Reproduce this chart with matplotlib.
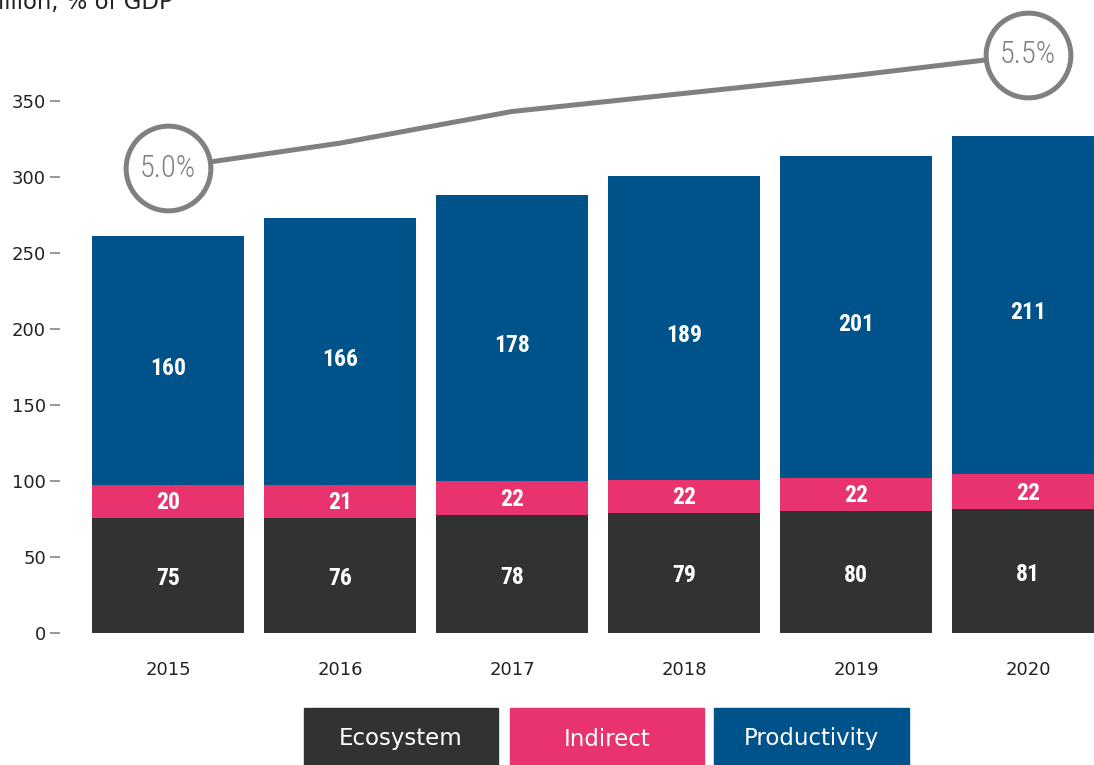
import numpy as np
import matplotlib
matplotlib.use("Agg")
import matplotlib.pyplot as plt
from matplotlib.patches import Rectangle

# data
years = ["2015", "2016", "2017", "2018", "2019", "2020"]
eco_lbl = ["75", "76", "78", "79", "80", "81"]
ind_lbl = ["20", "21", "22", "22", "22", "22"]
prod_lbl = ["160", "166", "178", "189", "201", "211"]
# segment heights as drawn in the chart
eco_h = [75.7, 75.8, 77.6, 79.0, 80.3, 81.6]
ind_h = [21.7, 21.6, 22.4, 21.7, 21.7, 23.0]
prod_h = [163.8, 175.6, 188.0, 200.0, 211.8, 222.4]
gdp_share = [5.0, 5.11, 5.25, 5.33, 5.41, 5.5]
gdp_lbl = {0: "5.0%", 5: "5.5%"}
series = ["Ecosystem", "Indirect", "Productivity"]

c_eco = "#313232"
c_ind = "#e8336f"
c_prod = "#00528b"
c_line = "#808080"
narrow = ["Roboto Condensed", "DejaVu Sans"]

W, H = 1094, 765
fig = plt.figure(figsize=(W / 100, H / 100), dpi=100)
ax = fig.add_axes([60 / W, (H - 640) / H, (W - 60) / W, 640 / H])

x = np.arange(len(years))
bw = 152 / 172
eco_h = np.array(eco_h)
ind_h = np.array(ind_h)
prod_h = np.array(prod_h)

ax.bar(x, eco_h, bw, color=c_eco)
ax.bar(x, ind_h, bw, bottom=eco_h, color=c_ind)
ax.bar(x, prod_h, bw, bottom=eco_h + ind_h, color=c_prod)

lbl_kw = dict(ha="center", va="center", color="white", fontsize=17,
              fontweight="bold", family=narrow, fontstretch="condensed")
for i in range(len(years)):
    ax.text(x[i], eco_h[i] / 2 - 2, eco_lbl[i], **lbl_kw)
    ax.text(x[i], eco_h[i] + ind_h[i] / 2 - 1, ind_lbl[i], **lbl_kw)
    ax.text(x[i], eco_h[i] + ind_h[i] + prod_h[i] / 2 - 5, prod_lbl[i], **lbl_kw)

ax.set_xlim((60 - 168) / 172, (W - 168) / 172)
ymin, ymax = -(640 - 633) / 1.52, 633 / 1.52
ax.set_ylim(ymin, ymax)
ax.set_yticks(np.arange(0, 351, 50))
ax.set_xticks(x)
ax.set_xticklabels(years)
ax.tick_params(axis="y", length=7.2, width=1.4, color="#999999", pad=3,
               labelsize=13, labelcolor="#222222")
ax.tick_params(axis="x", length=0, pad=15, labelsize=13, labelcolor="#222222")
for s in ax.spines.values():
    s.set_visible(False)

# GDP share line on a hidden twin axis
ax2 = ax.twinx()
ax2.set_ylim(5.0 + (ymin - 305.9) / 148.8, 5.0 + (ymax - 305.9) / 148.8)
ax2.plot(x, gdp_share, color=c_line, lw=3.6, solid_capstyle="butt", zorder=2)
for i, t in gdp_lbl.items():
    ax2.plot(x[i], gdp_share[i], "o", ms=61, mfc="white", mec=c_line, mew=3.6,
             zorder=3, clip_on=False)
    ax2.text(x[i], gdp_share[i], t, ha="center", va="center", color=c_line,
             fontsize=22, fontweight="light", family=narrow,
             fontstretch="condensed", zorder=4)
ax2.axis("off")

fig.text(-2 / W, 1 - 9 / H, "illion, % of GDP", ha="left", va="baseline",
         fontsize=16.4, color="#222222")

# legend boxes
boxes = [(304, 498, c_eco), (510, 704, c_ind), (714, 909, c_prod)]
for (x0, x1, c), name in zip(boxes, series):
    fig.patches.append(Rectangle((x0 / W, 0), (x1 - x0) / W, (H - 708) / H,
                                 transform=fig.transFigure, color=c))
    fig.text((x0 + x1) / 2 / W, 1 - 739 / H, name, ha="center", va="center",
             color="white", fontsize=16.5)

fig.savefig("out.png", dpi=100)
